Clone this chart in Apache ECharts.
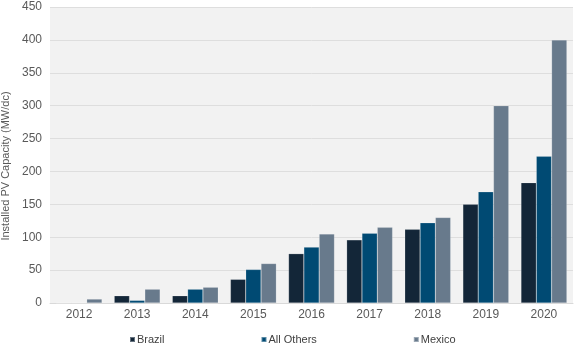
<!DOCTYPE html>
<html><head><meta charset="utf-8">
<script src="https://cdn.jsdelivr.net/npm/echarts@6/dist/echarts.min.js"></script>
<style>html,body{margin:0;padding:0;background:#fff}#c{width:582px;height:344px}</style>
</head><body><div id="c"></div>
<script>
var categories = ['2012','2013','2014','2015','2016','2017','2018','2019','2020'];
var brazil = [0, 11, 11, 36, 75, 96, 112, 150, 183];
var allOthers = [0, 4, 21, 51, 85, 106, 122, 169, 223];
var mexico = [6, 21, 24, 60, 105, 115, 130, 300, 400];
var yTicks = [0, 450, 50];

var chart = echarts.init(document.getElementById('c'), null, {renderer:'canvas'});
var font = 'Liberation Sans, Arial, sans-serif';
function s(name, data, color){
  return {name:name, type:'bar', data:data, barGap:'0%', barCategoryGap:'21%',
    itemStyle:{color:color, borderColor:'rgba(255,255,255,0.35)', borderWidth:0.5}};
}
chart.setOption({
  animation:false,
  textStyle:{fontFamily:font},
  grid:{left:50, right:9, top:7, bottom:41, show:true, backgroundColor:'#f2f2f2', borderWidth:0,
    containLabel:false, outerBoundsMode:'none'},
  legend:{top:329, left:124, itemGap:96, itemWidth:5, itemHeight:5, icon:'rect',
    textStyle:{fontSize:11, color:'#404040', fontFamily:font, padding:[0,0,0,-3]},
    data:['Brazil','All Others','Mexico']},
  xAxis:{type:'category', data:categories,
    axisLine:{show:true, lineStyle:{color:'#d9d9d9'}}, axisTick:{show:false},
    axisLabel:{color:'#595959', fontSize:12, margin:6, fontFamily:font}},
  yAxis:{type:'value', min:yTicks[0], max:yTicks[1], interval:yTicks[2],
    name:'Installed PV Capacity (MW/dc)', nameLocation:'middle', nameGap:36,
    nameTextStyle:{color:'#595959', fontSize:11, fontFamily:font, padding:[0,22,0,0]},
    axisLine:{show:false}, axisTick:{show:false},
    axisLabel:{color:'#595959', fontSize:12, margin:8, fontFamily:font},
    splitLine:{lineStyle:{color:'#dedede', width:1}}},
  series:[s('Brazil', brazil, '#132638'), s('All Others', allOthers, '#004a73'), s('Mexico', mexico, '#687a8c')]
});
</script></body></html>
